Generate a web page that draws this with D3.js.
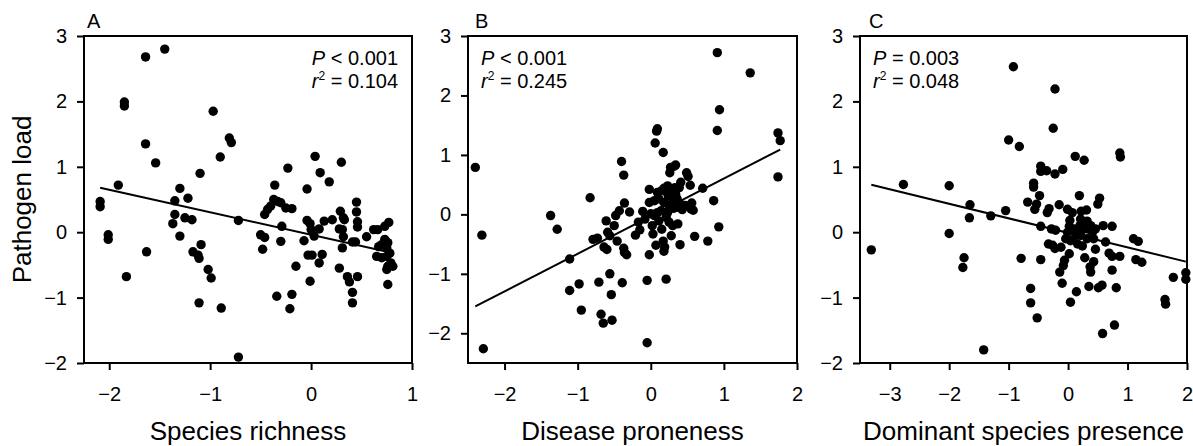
<!DOCTYPE html>
<html>
<head>
<meta charset="utf-8">
<script src="https://cdn.jsdelivr.net/npm/d3@7"></script>
<style>
  body { margin: 0; background: #fff; }
  svg { display: block; font-family: "Liberation Sans", Arial, Helvetica, sans-serif; }
</style>
</head>
<body>
<svg width="1193" height="446"></svg>
<script>
// panel A: species richness vs pathogen load
const richnessX = [-2.09,-2.09,-2.01,-2.01,-1.91,-1.85,-1.85,-1.83,-1.64,-1.64,-1.63,-1.54,-1.45,-1.35,-1.30,-1.35,-1.37,-1.30,-1.22,-1.25,
  -1.18,-1.10,-1.17,-1.12,-1.11,-1.09,-1.02,-0.99,-1.11,-0.97,-0.90,-0.89,-0.81,-0.79,-0.72,-0.72,-0.50,-0.46,-0.48,-0.46,
  -0.43,-0.40,-0.36,-0.37,-0.33,-0.30,-0.34,-0.29,-0.30,-0.25,-0.19,-0.23,-0.19,-0.21,-0.15,-0.07,-0.04,-0.04,-0.01,0.00,
  0.03,-0.03,0.01,-0.01,0.04,0.08,0.09,0.08,0.11,0.13,0.18,0.21,0.28,0.30,0.29,0.32,0.28,0.31,0.33,0.32,
  0.31,0.36,0.38,0.41,0.41,0.41,0.45,0.45,0.46,0.46,0.46,0.44,0.55,0.62,0.66,0.65,0.70,0.73,0.73,0.77,
  0.75,0.76,0.75,0.78,0.79,0.76,0.75,0.76,0.70,0.67,0.81];
const loadA = [0.47,0.39,-0.04,-0.11,0.72,1.99,1.93,-0.68,2.68,1.35,-0.30,1.06,2.80,0.48,0.67,0.27,0.13,-0.06,0.52,0.22,
  0.19,0.90,-0.30,-0.35,-0.40,-0.19,-0.57,-0.70,-1.08,1.85,1.15,-1.16,1.44,1.37,0.18,-1.91,-0.04,-0.08,-0.26,0.27,
  0.35,0.40,0.72,0.50,0.47,0.45,-0.98,0.09,-0.14,0.37,0.36,0.98,-0.95,-1.17,-0.52,-0.13,0.66,0.18,0.13,0.04,
  -0.06,-0.35,-0.35,-0.75,1.16,0.05,0.91,-0.47,-0.34,0.17,0.77,0.19,-0.55,1.07,0.32,0.22,0.05,0.04,0.19,-0.07,
  -0.24,-0.68,-0.76,-0.92,-1.08,-0.15,0.46,0.31,0.16,0.08,-0.68,-0.15,-0.07,0.04,0.04,-0.37,-0.19,-0.11,0.09,0.15,
  -0.24,-0.16,-0.37,-0.32,-0.47,-0.52,-0.57,-0.80,-0.39,-0.22,-0.52];

// panel B: disease proneness vs pathogen load
const pronenessX = [-2.40,-2.31,-2.29,-1.37,-1.28,-1.11,-1.11,-0.98,-0.95,-0.83,-0.79,-0.73,-0.71,-0.68,-0.65,-0.64,-0.60,-0.61,-0.59,-0.56,
  -0.56,-0.54,-0.53,-0.50,-0.48,-0.46,-0.43,-0.40,-0.37,-0.36,-0.37,-0.36,-0.33,-0.39,-0.29,-0.21,-0.17,-0.15,-0.11,-0.08,
  -0.05,-0.05,-0.02,-0.02,-0.02,0.00,0.02,0.03,0.05,0.06,0.07,0.08,0.09,0.09,0.11,0.14,0.15,0.17,0.17,0.18,
  0.19,0.21,0.21,0.23,0.24,0.25,0.26,0.27,0.30,0.30,0.28,0.32,0.33,0.34,0.36,0.37,0.39,0.40,0.41,0.41,
  0.43,0.47,0.49,0.51,0.54,0.55,0.56,0.58,0.60,0.71,0.78,0.86,0.91,0.91,0.93,0.94,1.36,1.74,1.77,1.74,
  0.18,0.22,0.27,0.34,0.18,0.25,0.09,0.11,0.31,0.37,0.05,0.23,0.15,0.30];
const loadB = [0.79,-0.35,-2.26,-0.02,-0.25,-0.75,-1.28,-1.17,-1.61,0.28,-0.42,-0.40,-1.14,-1.68,-1.83,-0.55,-0.59,-0.11,-0.30,-0.36,
  -1.00,-1.35,-1.78,-0.19,-0.02,-0.45,0.06,0.89,0.66,0.19,-0.57,-0.64,-0.68,-1.15,0.04,-0.35,-0.13,-0.26,0.05,-0.08,
  -1.11,-2.16,0.42,-0.68,0.20,0.01,-0.19,-0.33,0.23,1.20,-0.52,1.40,1.44,0.03,-0.11,0.06,0.40,1.04,-0.45,-0.62,
  -0.55,-0.05,-1.09,0.48,0.31,-0.13,0.70,0.79,0.34,0.20,-0.36,0.81,0.45,0.83,0.26,-0.16,0.45,-0.51,0.54,0.17,
  0.08,0.15,0.70,0.64,0.49,0.09,0.19,0.07,-0.37,0.44,-0.45,0.23,2.72,1.41,-0.21,1.76,2.38,1.37,1.24,0.63,
  0.44,0.37,0.42,0.34,0.20,0.15,0.37,0.26,0.10,0.12,-0.02,0.03,-0.25,-0.19];

// panel C: dominant species presence vs pathogen load
const dominantX = [-3.31,-2.77,-2.00,-2.00,-1.75,-1.77,-1.65,-1.66,-1.42,-1.30,-1.05,-1.00,-0.92,-0.82,-0.79,-0.68,-0.63,-0.63,-0.58,-0.58,
  -0.56,-0.53,-0.52,-0.48,-0.46,-0.46,-0.46,-0.46,-0.36,-0.35,-0.32,-0.33,-0.28,-0.26,-0.25,-0.22,-0.22,-0.21,-0.22,-0.15,
  -0.12,-0.09,-0.14,-0.10,-0.08,-0.06,-0.01,-0.01,0.02,0.02,0.04,0.03,0.07,0.04,0.12,0.13,0.14,0.16,0.19,0.20,
  0.22,0.24,0.27,0.28,0.31,0.32,0.33,0.35,0.37,0.38,0.41,0.43,0.46,0.46,0.50,0.53,0.51,0.57,0.58,0.59,
  0.63,0.69,0.74,0.74,0.74,0.78,0.81,0.87,0.87,0.88,1.10,1.18,1.14,1.24,1.63,1.64,1.77,1.98,1.98,
  0.16,0.21,0.27,0.10,0.32,-0.04,0.21,0.38,0.43];
const loadC = [-0.27,0.73,0.71,-0.02,-0.39,-0.54,0.42,0.22,-1.80,0.25,0.33,1.41,2.53,1.31,-0.40,0.46,-0.86,-1.08,0.75,0.69,
  0.35,0.43,-1.31,0.56,1.01,0.93,0.09,-0.42,0.94,0.30,0.36,-0.18,0.05,-0.20,1.59,2.19,0.89,0.03,-0.25,0.42,
  -0.23,0.96,-0.61,-0.78,-0.51,-0.43,0.35,0.00,0.09,-0.33,-1.07,0.18,0.30,-0.13,1.16,-0.05,-0.91,-0.18,0.56,0.10,
  0.32,-0.21,1.10,-0.39,0.34,0.17,0.05,-0.83,-0.53,-0.61,0.00,-0.45,-0.26,0.05,0.43,0.52,-0.85,-0.81,-1.55,0.10,
  -0.15,-0.32,0.09,-0.58,-0.37,-1.42,-0.85,-0.37,1.21,1.15,-0.10,-0.14,-0.42,-0.46,-1.03,-1.10,-0.69,-0.62,-0.72,
  0.00,-0.05,0.05,0.05,-0.10,-0.10,0.20,0.10,-0.10];

// fitted lines [intercept, slope]
const fitA = [-0.04, -0.344];
const fitB = [-0.03, 0.633];
const fitC = [-0.01, -0.222];

const xTicksA = [-2, -1, 0, 1];
const xTicksB = [-2, -1, 0, 1, 2];
const xTicksC = [-3, -2, -1, 0, 1, 2];
const yTicks = [-2, -1, 0, 1, 2, 3];

const statsA = ["P", " < 0.001", "0.104"];
const statsB = ["P", " < 0.001", "0.245"];
const statsC = ["P", " = 0.003", "0.048"];

const panels = [
  { letter: "A", title: "Species richness", xs: richnessX, ys: loadA, fit: fitA, stats: statsA,
    xDomain: [-2.25, 1], yDomain: [-2, 3], xTicks: xTicksA,
    left: 84, right: 412, letterDx: 3, statsX: 398, anchor: "end" },
  { letter: "B", title: "Disease proneness", xs: pronenessX, ys: loadB, fit: fitB, stats: statsB,
    xDomain: [-2.5, 2], yDomain: [-2.5, 3], xTicks: xTicksB,
    left: 468, right: 797, letterDx: 7, statsX: 481, anchor: "start" },
  { letter: "C", title: "Dominant species presence", xs: dominantX, ys: loadC, fit: fitC, stats: statsC,
    xDomain: [-3.5, 2], yDomain: [-2, 3], xTicks: xTicksC,
    left: 860, right: 1187, letterDx: 9, statsX: 873, anchor: "start" }
];

const svg = d3.select("svg");
const plotTop = 36, plotBottom = 363;
const fmt = d3.format("d");

panels.forEach(function (p) {
  const x = d3.scaleLinear().domain(p.xDomain).range([p.left, p.right]);
  const y = d3.scaleLinear().domain(p.yDomain).range([plotBottom, plotTop]);
  const g = svg.append("g");

  // y axis
  g.append("g")
    .attr("transform", "translate(" + p.left + ",0)")
    .call(d3.axisLeft(y).tickValues(yTicks).tickFormat(fmt).tickSize(7).tickPadding(10).tickSizeOuter(0))
    .call(a => a.select(".domain").remove())
    .call(a => a.selectAll("line").attr("stroke-width", 2))
    .call(a => a.selectAll("text").attr("font-size", 20).attr("font-family", null));

  // x axis
  g.append("g")
    .attr("transform", "translate(0," + plotBottom + ")")
    .call(d3.axisBottom(x).tickValues(p.xTicks).tickFormat(fmt).tickSize(7).tickPadding(17).tickSizeOuter(0))
    .call(a => a.select(".domain").remove())
    .call(a => a.selectAll("line").attr("stroke-width", 2))
    .call(a => a.selectAll("text").attr("font-size", 20).attr("font-family", null));

  // frame
  g.append("rect")
    .attr("x", p.left).attr("y", plotTop)
    .attr("width", p.right - p.left).attr("height", plotBottom - plotTop)
    .attr("fill", "none").attr("stroke", "#000").attr("stroke-width", 2);

  // points
  g.append("g").selectAll("circle")
    .data(d3.zip(p.xs, p.ys))
    .enter().append("circle")
    .attr("cx", d => x(d[0]))
    .attr("cy", d => y(d[1]))
    .attr("r", 4.7)
    .attr("fill", "#000");

  // regression line
  const ext = d3.extent(p.xs);
  g.append("line")
    .attr("x1", x(ext[0])).attr("y1", y(p.fit[0] + p.fit[1] * ext[0]))
    .attr("x2", x(ext[1])).attr("y2", y(p.fit[0] + p.fit[1] * ext[1]))
    .attr("stroke", "#000").attr("stroke-width", 2);

  // panel letter
  g.append("text")
    .attr("x", p.left + p.letterDx).attr("y", 28)
    .attr("font-size", 20)
    .text(p.letter);

  // stats
  const t1 = g.append("text")
    .attr("x", p.statsX).attr("y", 65)
    .attr("font-size", 20).attr("text-anchor", p.anchor);
  t1.append("tspan").attr("font-style", "italic").text(p.stats[0]);
  t1.append("tspan").text(p.stats[1]);

  const t2 = g.append("text")
    .attr("x", p.statsX).attr("y", 88)
    .attr("font-size", 20).attr("text-anchor", p.anchor);
  t2.append("tspan").attr("font-style", "italic").text("r");
  t2.append("tspan").attr("font-size", 12).attr("dy", -8).text("2");
  t2.append("tspan").attr("dy", 8).text(" = " + p.stats[2]);

  // x title
  g.append("text")
    .attr("x", (p.left + p.right) / 2).attr("y", 440)
    .attr("font-size", 26).attr("text-anchor", "middle")
    .text(p.title);
});

// y title
svg.append("text")
  .attr("transform", "translate(31," + (plotTop + plotBottom) / 2 + ") rotate(-90)")
  .attr("font-size", 26).attr("text-anchor", "middle")
  .text("Pathogen load");
</script>
</body>
</html>
